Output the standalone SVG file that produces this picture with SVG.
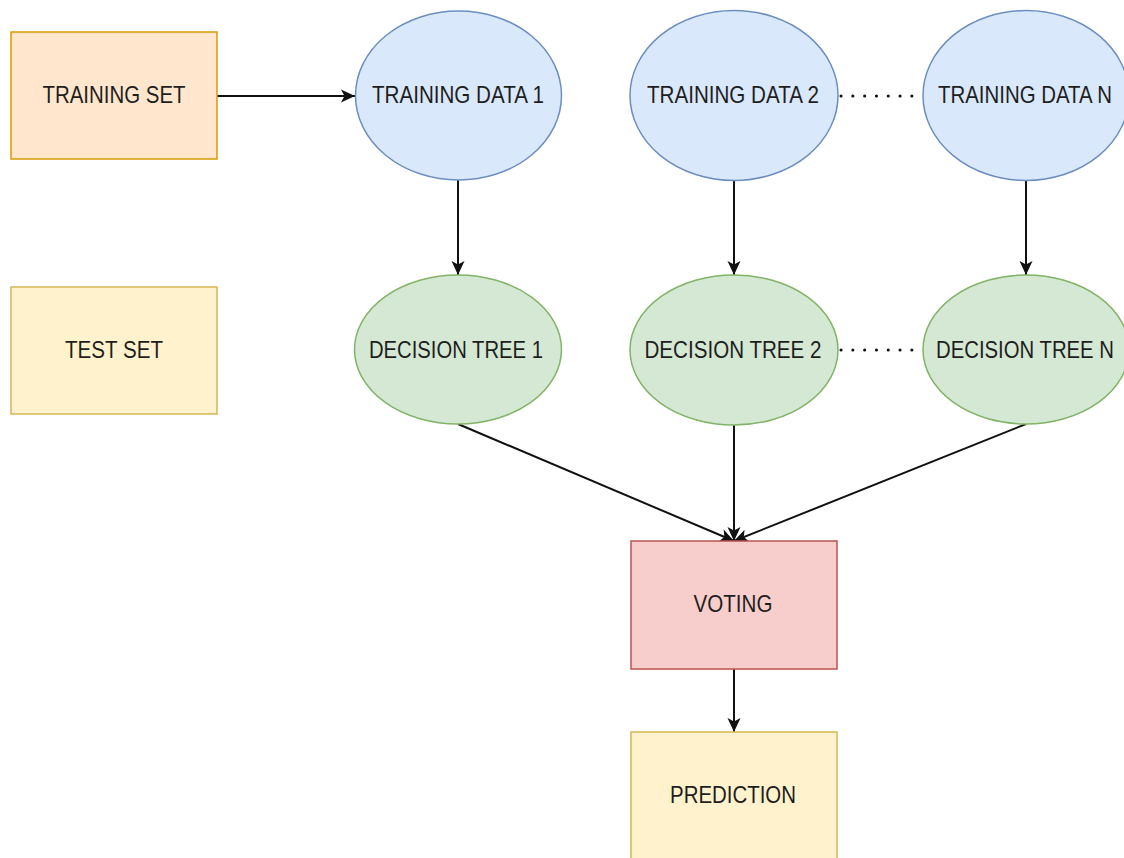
<svg xmlns="http://www.w3.org/2000/svg" width="1124" height="858" viewBox="0 0 1124 858">
  <style>
    .lbl { font-family: "Liberation Sans", Arial, sans-serif; font-size: 24px; fill: #1e1e1e; text-anchor: middle; }
    .edge { stroke: #111; stroke-width: 2; fill: none; }
    .dots { stroke: #111; stroke-width: 3; fill: none; stroke-linecap: round; stroke-dasharray: 0.1 11.7; }
    .orange { fill: #ffe6cc; stroke: #d79b00; stroke-width: 1.5; }
    .blue { fill: #dae8fc; stroke: #6c8ebf; stroke-width: 1.5; }
    .green { fill: #d5e8d4; stroke: #82b366; stroke-width: 1.5; }
    .red { fill: #f8cecc; stroke: #b85450; stroke-width: 1.5; }
    .yellow { fill: #fff2cc; stroke: #d6b656; stroke-width: 1.5; }
  </style>
  <defs>
    <!-- classic block arrowhead with notched back -->
    <marker id="arrow" markerUnits="userSpaceOnUse" markerWidth="16" markerHeight="16" viewBox="0 0 16 16" refX="15" refY="8" orient="auto">
      <path d="M1,1.5 L15,8 L1,14.5 L4.5,8 z" fill="#111"/>
    </marker>
  </defs>

  <rect width="1124" height="858" fill="#ffffff"/>

  <!-- connectors -->
  <g id="connectors">
    <line class="edge" x1="217" y1="96" x2="355" y2="96" marker-end="url(#arrow)"/>
    <line class="edge" x1="458" y1="180" x2="458" y2="275" marker-end="url(#arrow)"/>
    <line class="edge" x1="734" y1="181" x2="734" y2="275" marker-end="url(#arrow)"/>
    <line class="edge" x1="1026" y1="181" x2="1026" y2="275" marker-end="url(#arrow)"/>
    <line class="edge" x1="458" y1="424" x2="734" y2="541" marker-end="url(#arrow)"/>
    <line class="edge" x1="734" y1="425" x2="734" y2="541" marker-end="url(#arrow)"/>
    <line class="edge" x1="1026" y1="424" x2="734" y2="541" marker-end="url(#arrow)"/>
    <line class="edge" x1="734" y1="669" x2="734" y2="732" marker-end="url(#arrow)"/>
    <line class="dots" x1="841" y1="96" x2="922" y2="96"/>
    <line class="dots" x1="841" y1="350" x2="922" y2="350"/>
  </g>

  <g id="training-set">
    <rect class="orange" x="11" y="32" width="206" height="127"/>
    <text class="lbl" x="114" y="103" textLength="143" lengthAdjust="spacingAndGlyphs">TRAINING SET</text>
  </g>

  <g id="test-set">
    <rect class="yellow" x="11" y="287" width="206" height="127"/>
    <text class="lbl" x="114" y="358" textLength="98" lengthAdjust="spacingAndGlyphs">TEST SET</text>
  </g>

  <g id="training-data-1">
    <ellipse class="blue" cx="458.5" cy="95.5" rx="103" ry="84.5"/>
    <text class="lbl" x="458" y="103" textLength="172" lengthAdjust="spacingAndGlyphs">TRAINING DATA 1</text>
  </g>

  <g id="training-data-2">
    <ellipse class="blue" cx="734" cy="95.5" rx="104" ry="85"/>
    <text class="lbl" x="733" y="103" textLength="172" lengthAdjust="spacingAndGlyphs">TRAINING DATA 2</text>
  </g>

  <g id="training-data-n">
    <ellipse class="blue" cx="1026" cy="95.5" rx="103" ry="85"/>
    <text class="lbl" x="1025" y="103" textLength="174" lengthAdjust="spacingAndGlyphs">TRAINING DATA N</text>
  </g>

  <g id="decision-tree-1">
    <ellipse class="green" cx="458" cy="349.5" rx="103.5" ry="74.5"/>
    <text class="lbl" x="456" y="358" textLength="174" lengthAdjust="spacingAndGlyphs">DECISION TREE 1</text>
  </g>

  <g id="decision-tree-2">
    <ellipse class="green" cx="734" cy="350" rx="104" ry="75"/>
    <text class="lbl" x="733" y="358" textLength="177" lengthAdjust="spacingAndGlyphs">DECISION TREE 2</text>
  </g>

  <g id="decision-tree-n">
    <ellipse class="green" cx="1026" cy="349.5" rx="103" ry="74.5"/>
    <text class="lbl" x="1025" y="358" textLength="178" lengthAdjust="spacingAndGlyphs">DECISION TREE N</text>
  </g>

  <g id="voting">
    <rect class="red" x="631" y="541" width="206" height="128"/>
    <text class="lbl" x="733" y="612" textLength="79" lengthAdjust="spacingAndGlyphs">VOTING</text>
  </g>

  <g id="prediction">
    <rect class="yellow" x="631" y="732" width="206" height="128"/>
    <text class="lbl" x="733" y="803" textLength="126" lengthAdjust="spacingAndGlyphs">PREDICTION</text>
  </g>
</svg>
